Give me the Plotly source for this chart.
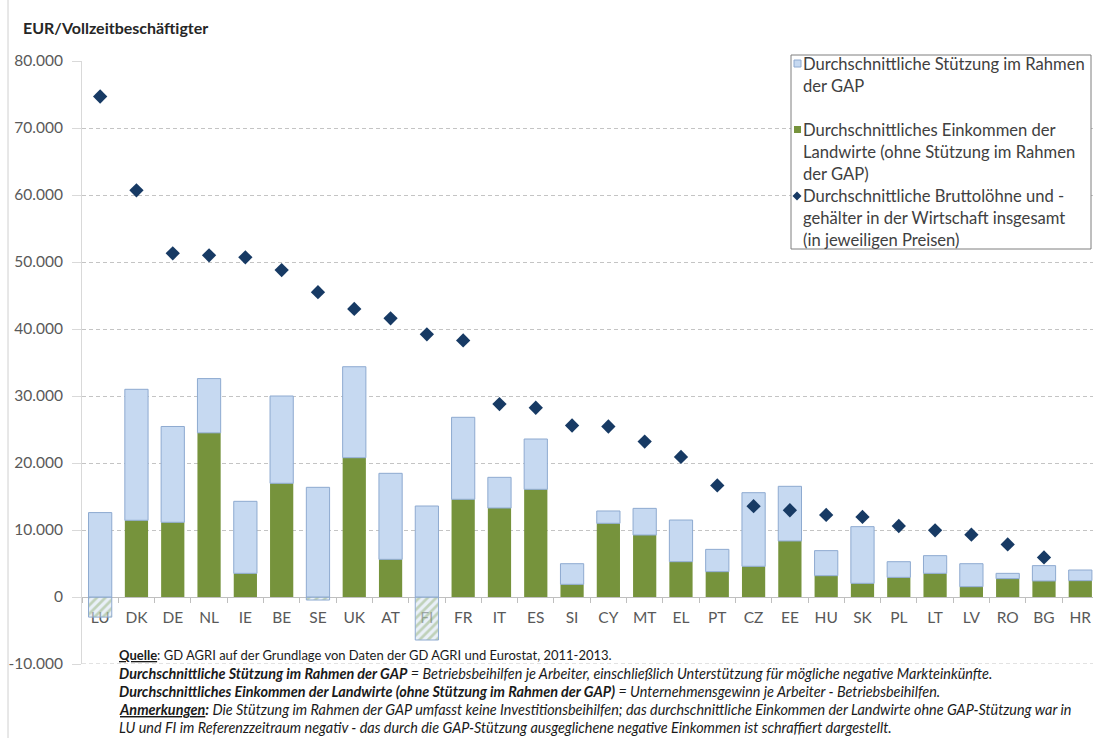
import plotly.graph_objects as go

# EU member states, ordered by average gross wages
countries = ["LU", "DK", "DE", "NL", "IE", "BE", "SE", "UK", "AT", "FI", "FR", "IT", "ES", "SI",
             "CY", "MT", "EL", "PT", "CZ", "EE", "HU", "SK", "PL", "LT", "LV", "RO", "BG", "HR"]

# Average CAP support per full-time worker (EUR)
cap_support = [12600, 19550, 14300, 8100, 10750, 13030, 16370, 13580, 12840, 13580, 12240, 4580,
               7510, 3080, 1840, 3980, 6220, 3330, 10990, 8160, 3740, 8460, 2340, 2640, 3430, 790,
               2290, 1590]

# Average farm income without CAP support (EUR); negative where support offset a loss
farm_income = [-3000, 11450, 11150, 24500, 3530, 16970, -450, 20790, 5620, -6420, 14580, 13280,
               16070, 1890, 11000, 9250, 5270, 3780, 4580, 8360, 3180, 2040, 2930, 3530, 1540, 2740,
               2390, 2440]

# Average gross wages and salaries in the whole economy (EUR, current prices)
gross_wages = [74700, 60700, 51300, 51000, 50700, 48800, 45500, 43000, 41600, 39200, 38300, 28800,
               28250, 25600, 25450, 23200, 20900, 16650, 13550, 12950, 12250, 11950, 10600, 9950,
               9300, 7850, 5900, None]

y_tick_values = [-10000, 0, 10000, 20000, 30000, 40000, 50000, 60000, 70000, 80000]
y_tick_labels = ["-10.000", "0", "10.000", "20.000", "30.000", "40.000", "50.000", "60.000",
                 "70.000", "80.000"]

legend_support = ["Durchschnittliche Stützung im Rahmen", "der GAP"]
legend_income = ["Durchschnittliches Einkommen der", "Landwirte (ohne Stützung im Rahmen", "der GAP)"]
legend_wages = ["Durchschnittliche Bruttolöhne und -", "gehälter in der Wirtschaft insgesamt",
                "(in jeweiligen Preisen)"]

footnotes = [
    "<b><u>Quelle</u></b>: GD AGRI auf der Grundlage von Daten der GD AGRI und Eurostat, 2011-2013.",
    "<i><b>Durchschnittliche Stützung im Rahmen der GAP</b> = Betriebsbeihilfen je Arbeiter, "
    "einschließlich Unterstützung für mögliche negative Markteinkünfte.</i>",
    "<i><b>Durchschnittliches Einkommen der Landwirte (ohne Stützung im Rahmen der GAP)</b> = "
    "Unternehmensgewinn je Arbeiter - Betriebsbeihilfen.</i>",
    "<i><b><u>Anmerkungen</u>:</b> Die Stützung im Rahmen der GAP umfasst keine Investitionsbeihilfen; "
    "das durchschnittliche Einkommen der Landwirte ohne GAP-Stützung war in</i>",
    "<i>LU und FI im Referenzzeitraum negativ - das durch die GAP-Stützung ausgeglichene negative "
    "Einkommen ist schraffiert dargestellt.</i>",
]
footnote_sizes = [13, 14.4, 14.4, 14.4, 14.4]

BLUE = "#c6d9f1"
BLUE_EDGE = "#8eaad0"
GREEN = "#76933c"
NAVY = "#173a64"
FONT = "Lato"

W, H = 1093, 738
ML, MR, MT, MB = 82, 0, 61, 74
PW, PH = W - ML - MR, H - MT - MB


def px_x(px):
    return (px - ML) / PW


def px_y(py):
    return (H - MB - py) / PH


income_pos = [v if v >= 0 else None for v in farm_income]
income_neg = [v if v < 0 else None for v in farm_income]

fig = go.Figure()
fig.add_trace(go.Bar(x=countries, y=income_pos, marker=dict(color=GREEN, line=dict(width=0)),
                     name="Einkommen"))
fig.add_trace(go.Bar(x=countries, y=income_neg,
                     marker=dict(color="rgba(214,228,242,0.55)",
                                 line=dict(color=BLUE_EDGE, width=1),
                                 pattern=dict(shape="/", fgcolor="rgba(120,155,80,0.75)",
                                              bgcolor="rgba(214,228,242,0.55)",
                                              size=6, solidity=0.45)),
                     name="Einkommen (negativ)"))
fig.add_trace(go.Bar(x=countries, y=cap_support,
                     marker=dict(color=BLUE, line=dict(color=BLUE_EDGE, width=1)),
                     name="Stützung"))
fig.add_trace(go.Scatter(x=countries, y=gross_wages, mode="markers",
                         marker=dict(symbol="diamond", size=11, color=NAVY),
                         name="Bruttolöhne"))

fig.update_layout(
    width=W, height=H,
    margin=dict(l=ML, r=MR, t=MT, b=MB, pad=0),
    barmode="relative", bargap=0.36,
    plot_bgcolor="white", paper_bgcolor="white",
    showlegend=False,
    font=dict(family=FONT, size=15, color="#595959"),
    xaxis=dict(type="category", range=[-0.5, 27.35], anchor="free", position=1 / 9,
               showline=True, linecolor="#bfbfbf", linewidth=1,
               ticks="outside", tickson="boundaries", ticklen=5, tickcolor="#bfbfbf",
               showgrid=False, layer="below traces", ticklabelstandoff=6,
               tickfont=dict(family=FONT, size=15.5, color="#595959")),
    yaxis=dict(range=[-10000, 80000], tickvals=y_tick_values, ticktext=y_tick_labels,
               showgrid=True, gridcolor="#c4c4c4", griddash="4px,3px", gridwidth=1,
               zeroline=False, showline=True, linecolor="#d9d9d9",
               ticks="outside", ticklen=9, tickcolor="#d9d9d9", ticklabelstandoff=6,
               tickfont=dict(family=FONT, size=15.5, color="#595959")),
)

shapes = []
annotations = []

# thin frame line at the left edge
shapes.append(dict(type="line", xref="paper", yref="paper", x0=px_x(8), x1=px_x(8),
                   y0=px_y(H), y1=px_y(0), line=dict(color="#d0d0d0", width=1)))

# gridline along the bottom of the value range
shapes.append(dict(type="line", xref="paper", yref="y", x0=0, x1=1,
                   y0=y_tick_values[0], y1=y_tick_values[0], layer="below",
                   line=dict(color="#c4c4c4", width=1, dash="4px,3px")))

# legend box
shapes.append(dict(type="rect", xref="paper", yref="paper", x0=px_x(791), x1=px_x(1091),
                   y0=px_y(249), y1=px_y(55), fillcolor="white",
                   line=dict(color="#7f7f7f", width=1), layer="above"))
shapes.append(dict(type="rect", xref="paper", yref="paper", x0=px_x(794), x1=px_x(801),
                   y0=px_y(67), y1=px_y(60), fillcolor=BLUE,
                   line=dict(color=BLUE_EDGE, width=1), layer="above"))
shapes.append(dict(type="rect", xref="paper", yref="paper", x0=px_x(794), x1=px_x(801),
                   y0=px_y(133), y1=px_y(126), fillcolor=GREEN,
                   line=dict(color=GREEN, width=0), layer="above"))
cx, cy, r = 797, 196, 4.5
diamond_path = "M {} {} L {} {} L {} {} L {} {} Z".format(
    px_x(cx), px_y(cy - r), px_x(cx + r), px_y(cy), px_x(cx), px_y(cy + r), px_x(cx - r), px_y(cy))
shapes.append(dict(type="path", xref="paper", yref="paper", path=diamond_path,
                   fillcolor=NAVY, line=dict(color=NAVY, width=0), layer="above"))

legend_lines = [(legend_support, [63.5, 86.5]),
                (legend_income, [129.5, 151.5, 173.5]),
                (legend_wages, [196, 218, 240])]
for texts, ys in legend_lines:
    for t, yy in zip(texts, ys):
        annotations.append(dict(text=t, xref="paper", yref="paper", x=px_x(801), y=px_y(yy),
                                xanchor="left", yanchor="middle", showarrow=False,
                                font=dict(family=FONT, size=16.6, color="#404040")))

# axis title
annotations.append(dict(text="<b>EUR/Vollzeitbeschäftigter</b>", xref="paper", yref="paper",
                        x=px_x(21), y=px_y(27), xanchor="left", yanchor="middle", showarrow=False,
                        font=dict(family=FONT, size=16, color="#262626")))

# source and notes
for i, (note, fs) in enumerate(zip(footnotes, footnote_sizes)):
    annotations.append(dict(text=note, xref="paper", yref="paper", x=px_x(117),
                            y=px_y(655 + 18 * i), xanchor="left", yanchor="middle",
                            showarrow=False,
                            font=dict(family=FONT, size=fs, color="#1a1a1a")))

fig.update_layout(shapes=shapes, annotations=annotations)
fig.write_html("out.html")
